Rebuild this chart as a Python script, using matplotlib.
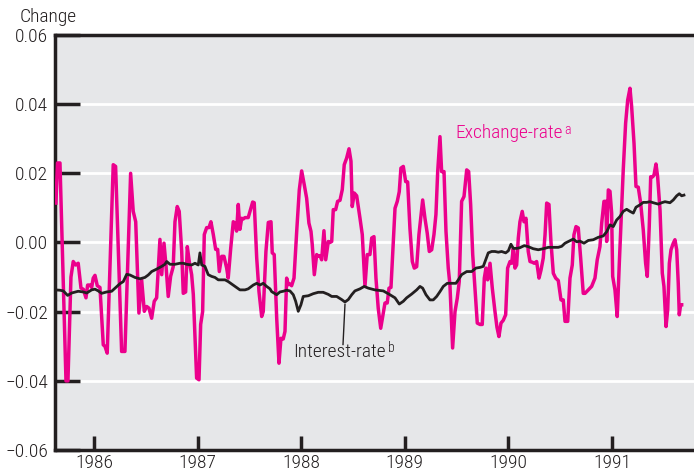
import matplotlib
matplotlib.use("Agg")
import matplotlib.pyplot as plt

plt.rcParams['font.family'] = ['Roboto Condensed', 'Liberation Sans', 'DejaVu Sans']
plt.rcParams['font.weight'] = 'light'

# Exchange-rate series (decimal year, change)
ex_year = [1985.633, 1985.648, 1985.672, 1985.730, 1985.749, 1985.778, 1985.800, 1985.823, 1985.848,
           1985.875, 1985.897, 1985.923, 1985.939, 1985.961, 1985.978, 1985.993, 1986.010, 1986.032,
           1986.058, 1986.090, 1986.106, 1986.128, 1986.186, 1986.209, 1986.267, 1986.299, 1986.354,
           1986.379, 1986.403, 1986.434, 1986.460, 1986.486, 1986.509, 1986.531, 1986.557, 1986.582,
           1986.605, 1986.637, 1986.654, 1986.676, 1986.695, 1986.717, 1986.740, 1986.765, 1986.782,
           1986.804, 1986.823, 1986.847, 1986.862, 1986.885, 1986.901, 1986.920, 1986.943, 1986.959,
           1986.991, 1987.014, 1987.030, 1987.049, 1987.065, 1987.088, 1987.110, 1987.129, 1987.152,
           1987.175, 1987.194, 1987.210, 1987.233, 1987.255, 1987.281, 1987.296, 1987.320, 1987.345,
           1987.361, 1987.377, 1987.393, 1987.409, 1987.426, 1987.441, 1987.458, 1987.489, 1987.506,
           1987.532, 1987.547, 1987.571, 1987.593, 1987.619, 1987.634, 1987.660, 1987.683, 1987.709,
           1987.721, 1987.740, 1987.764, 1987.786, 1987.805, 1987.827, 1987.844, 1987.860, 1987.876,
           1987.892, 1987.908, 1987.931, 1987.957, 1987.982, 1988.005, 1988.030, 1988.053, 1988.075,
           1988.095, 1988.107, 1988.127, 1988.150, 1988.165, 1988.182, 1988.198, 1988.220, 1988.237,
           1988.262, 1988.278, 1988.295, 1988.310, 1988.333, 1988.352, 1988.375, 1988.397, 1988.416,
           1988.439, 1988.462, 1988.481, 1988.493, 1988.513, 1988.536, 1988.568, 1988.590, 1988.616,
           1988.638, 1988.664, 1988.681, 1988.703, 1988.722, 1988.744, 1988.768, 1988.793, 1988.809,
           1988.831, 1988.848, 1988.867, 1988.883, 1988.906, 1988.928, 1988.947, 1988.963, 1988.986,
           1989.009, 1989.028, 1989.050, 1989.073, 1989.092, 1989.115, 1989.137, 1989.154, 1989.173,
           1989.195, 1989.217, 1989.237, 1989.260, 1989.282, 1989.301, 1989.318, 1989.340, 1989.356,
           1989.379, 1989.398, 1989.420, 1989.436, 1989.462, 1989.485, 1989.507, 1989.526, 1989.549,
           1989.572, 1989.598, 1989.617, 1989.636, 1989.656, 1989.678, 1989.700, 1989.726, 1989.748,
           1989.768, 1989.784, 1989.800, 1989.823, 1989.845, 1989.871, 1989.890, 1989.909, 1989.929,
           1989.951, 1989.974, 1989.993, 1990.016, 1990.032, 1990.048, 1990.064, 1990.080, 1990.096,
           1990.112, 1990.134, 1990.151, 1990.170, 1990.192, 1990.209, 1990.231, 1990.250, 1990.273,
           1990.296, 1990.315, 1990.337, 1990.354, 1990.370, 1990.392, 1990.411, 1990.434, 1990.457,
           1990.482, 1990.508, 1990.530, 1990.547, 1990.573, 1990.595, 1990.617, 1990.633, 1990.653,
           1990.675, 1990.698, 1990.723, 1990.740, 1990.772, 1990.804, 1990.836, 1990.858, 1990.884,
           1990.901, 1990.923, 1990.942, 1990.949, 1990.965, 1990.981, 1990.997, 1991.007, 1991.029,
           1991.051, 1991.071, 1991.094, 1991.109, 1991.132, 1991.152, 1991.174, 1991.190, 1991.213,
           1991.232, 1991.254, 1991.277, 1991.302, 1991.325, 1991.341, 1991.360, 1991.374, 1991.393,
           1991.406, 1991.425, 1991.441, 1991.464, 1991.486, 1991.502, 1991.522, 1991.538, 1991.554,
           1991.570, 1991.592, 1991.608, 1991.625, 1991.640, 1991.650, 1991.663, 1991.673]
ex_val = [0.0114, 0.0230, 0.0230, -0.0400, -0.0400, -0.0100, -0.0055, -0.0065, -0.0060,
          -0.0132, -0.0135, -0.0160, -0.0123, -0.0123, -0.0130, -0.0103, -0.0095, -0.0125,
          -0.0130, -0.0296, -0.0300, -0.0320, 0.0225, 0.0220, -0.0315, -0.0315, 0.0200,
          0.0090, 0.0060, -0.0204, -0.0107, -0.0199, -0.0185, -0.0190, -0.0219, -0.0170,
          -0.0160, 0.0009, -0.0093, -0.0002, -0.0065, -0.0156, -0.0098, -0.0070, 0.0060,
          0.0104, 0.0090, -0.0026, -0.0147, -0.0143, -0.0012, -0.0055, -0.0093, -0.0150,
          -0.0392, -0.0397, -0.0237, -0.0200, 0.0023, 0.0043, 0.0043, 0.0060, 0.0023,
          -0.0020, -0.0020, -0.0084, -0.0040, -0.0040, -0.0074, -0.0103, -0.0017, 0.0060,
          0.0055, 0.0033, 0.0110, 0.0038, 0.0070, 0.0068, 0.0072, 0.0072, 0.0090,
          0.0117, 0.0115, -0.0045, -0.0142, -0.0214, -0.0200, -0.0026, 0.0058, 0.0060,
          -0.0030, -0.0035, -0.0219, -0.0349, -0.0277, -0.0279, -0.0257, -0.0103, -0.0122,
          -0.0120, -0.0125, -0.0103, 0.0032, 0.0152, 0.0207, 0.0167, 0.0128, 0.0056,
          0.0032, -0.0006, -0.0093, -0.0035, -0.0040, -0.0038, -0.0050, 0.0034, -0.0050,
          0.0003, 0.0000, 0.0003, 0.0095, 0.0095, 0.0119, 0.0122, 0.0153, 0.0225,
          0.0244, 0.0271, 0.0235, 0.0104, 0.0143, 0.0135, 0.0070, 0.0023, -0.0127,
          -0.0035, -0.0035, 0.0013, 0.0017, -0.0103, -0.0190, -0.0248, -0.0204, -0.0175,
          -0.0175, -0.0132, -0.0130, -0.0035, 0.0099, 0.0119, 0.0147, 0.0215, 0.0220,
          0.0176, 0.0175, 0.0041, -0.0055, -0.0074, -0.0070, 0.0023, 0.0070, 0.0123,
          0.0070, 0.0027, -0.0026, -0.0021, 0.0023, 0.0081, 0.0205, 0.0306, 0.0205,
          0.0205, 0.0032, -0.0074, -0.0122, -0.0305, -0.0200, -0.0161, -0.0113, 0.0119,
          0.0133, 0.0210, 0.0205, 0.0110, -0.0035, -0.0132, -0.0233, -0.0237, -0.0237,
          -0.0103, -0.0074, -0.0108, -0.0060, -0.0132, -0.0200, -0.0245, -0.0272, -0.0233,
          -0.0225, -0.0209, -0.0074, -0.0055, -0.0060, -0.0017, -0.0074, -0.0065, 0.0013,
          0.0060, 0.0090, 0.0060, 0.0070, -0.0026, -0.0055, -0.0057, -0.0060, -0.0055,
          -0.0103, -0.0080, -0.0045, 0.0022, 0.0114, 0.0110, 0.0003, -0.0089, -0.0103,
          -0.0110, -0.0166, -0.0166, -0.0228, -0.0228, -0.0103, -0.0065, 0.0022, 0.0046,
          0.0042, -0.0045, -0.0147, -0.0147, -0.0137, -0.0127, -0.0103, -0.0050, -0.0012,
          0.0056, 0.0119, 0.0119, 0.0003, 0.0152, 0.0148, 0.0085, -0.0098, -0.0137,
          -0.0214, -0.0060, 0.0104, 0.0210, 0.0345, 0.0412, 0.0446, 0.0393, 0.0287,
          0.0162, 0.0160, 0.0114, 0.0037, -0.0060, -0.0098, 0.0046, 0.0190, 0.0190,
          0.0195, 0.0227, 0.0190, 0.0094, -0.0089, -0.0127, -0.0243, -0.0195, -0.0060,
          -0.0021, -0.0002, 0.0008, -0.0021, -0.0118, -0.0209, -0.0180, -0.0180]

# Interest-rate series (decimal year, change)
ir_year = [1985.624, 1985.672, 1985.704, 1985.746, 1985.785, 1985.848, 1985.897, 1985.930, 1985.978,
           1986.010, 1986.042, 1986.074, 1986.123, 1986.171, 1986.219, 1986.251, 1986.283, 1986.316,
           1986.348, 1986.396, 1986.444, 1986.492, 1986.524, 1986.557, 1986.605, 1986.654, 1986.685,
           1986.702, 1986.734, 1986.782, 1986.830, 1986.862, 1986.895, 1986.943, 1986.975, 1987.007,
           1987.023, 1987.040, 1987.071, 1987.103, 1987.136, 1987.168, 1987.200, 1987.233, 1987.265,
           1987.296, 1987.329, 1987.377, 1987.409, 1987.458, 1987.489, 1987.538, 1987.571, 1987.602,
           1987.634, 1987.667, 1987.699, 1987.715, 1987.764, 1987.795, 1987.827, 1987.860, 1987.892,
           1987.924, 1987.947, 1987.972, 1987.998, 1988.020, 1988.069, 1988.117, 1988.165, 1988.213,
           1988.262, 1988.295, 1988.343, 1988.391, 1988.423, 1988.455, 1988.488, 1988.519, 1988.568,
           1988.609, 1988.648, 1988.712, 1988.793, 1988.857, 1988.906, 1988.947, 1988.986, 1989.018,
           1989.067, 1989.115, 1989.147, 1989.173, 1989.205, 1989.243, 1989.275, 1989.308, 1989.340,
           1989.372, 1989.410, 1989.453, 1989.494, 1989.517, 1989.549, 1989.598, 1989.646, 1989.687,
           1989.726, 1989.758, 1989.781, 1989.806, 1989.839, 1989.871, 1989.903, 1989.935, 1989.974,
           1990.000, 1990.025, 1990.048, 1990.080, 1990.112, 1990.154, 1990.192, 1990.240, 1990.289,
           1990.337, 1990.386, 1990.434, 1990.482, 1990.515, 1990.547, 1990.595, 1990.627, 1990.660,
           1990.691, 1990.730, 1990.772, 1990.820, 1990.868, 1990.916, 1990.949, 1990.981, 1991.013,
           1991.045, 1991.077, 1991.109, 1991.142, 1991.174, 1991.206, 1991.232, 1991.271, 1991.302,
           1991.335, 1991.367, 1991.399, 1991.447, 1991.480, 1991.512, 1991.560, 1991.592, 1991.625,
           1991.650, 1991.673, 1991.695]
ir_val = [-0.0137, -0.0138, -0.0140, -0.0153, -0.0146, -0.0141, -0.0143, -0.0146, -0.0137,
          -0.0135, -0.0140, -0.0147, -0.0143, -0.0141, -0.0128, -0.0119, -0.0113, -0.0092,
          -0.0094, -0.0101, -0.0105, -0.0101, -0.0094, -0.0084, -0.0077, -0.0069, -0.0063,
          -0.0055, -0.0063, -0.0063, -0.0060, -0.0060, -0.0063, -0.0065, -0.0060, -0.0065,
          -0.0030, -0.0065, -0.0069, -0.0093, -0.0098, -0.0101, -0.0108, -0.0108, -0.0108,
          -0.0113, -0.0120, -0.0130, -0.0137, -0.0137, -0.0134, -0.0123, -0.0118, -0.0123,
          -0.0118, -0.0127, -0.0134, -0.0142, -0.0151, -0.0143, -0.0141, -0.0138, -0.0140,
          -0.0151, -0.0170, -0.0199, -0.0180, -0.0156, -0.0154, -0.0148, -0.0144, -0.0144,
          -0.0150, -0.0156, -0.0156, -0.0165, -0.0172, -0.0165, -0.0151, -0.0140, -0.0134,
          -0.0127, -0.0132, -0.0137, -0.0140, -0.0151, -0.0160, -0.0178, -0.0170, -0.0160,
          -0.0149, -0.0137, -0.0127, -0.0132, -0.0151, -0.0166, -0.0166, -0.0156, -0.0142,
          -0.0127, -0.0118, -0.0118, -0.0118, -0.0108, -0.0093, -0.0084, -0.0084, -0.0074,
          -0.0072, -0.0069, -0.0050, -0.0030, -0.0026, -0.0026, -0.0028, -0.0026, -0.0030,
          -0.0024, -0.0005, -0.0017, -0.0017, -0.0015, -0.0009, -0.0012, -0.0018, -0.0021,
          -0.0018, -0.0014, -0.0014, -0.0014, -0.0011, -0.0002, 0.0005, 0.0010, 0.0002,
          0.0004, -0.0002, 0.0006, 0.0008, 0.0015, 0.0019, 0.0031, 0.0051, 0.0046,
          0.0065, 0.0075, 0.0090, 0.0096, 0.0090, 0.0085, 0.0102, 0.0109, 0.0116,
          0.0116, 0.0118, 0.0115, 0.0111, 0.0115, 0.0118, 0.0115, 0.0123, 0.0135,
          0.0141, 0.0135, 0.0137]

y_ticks = [-0.06, -0.04, -0.02, 0.00, 0.02, 0.04, 0.06]
y_tick_labels = ['\u22120.06', '\u22120.04', '\u22120.02', '0.00', '0.02', '0.04', '0.06']
x_ticks = [1986, 1987, 1988, 1989, 1990, 1991]
x_tick_labels = ['1986', '1987', '1988', '1989', '1990', '1991']

PINK = '#ec008c'
DARK = '#231f20'
BG = '#e6e7e9'
FS = 14

fig = plt.figure(figsize=(6.94, 4.75), dpi=100)
ax = fig.add_axes([55 / 694, 1 - 450 / 475, 1 - 55 / 694, (450 - 35) / 475])
ax.set_facecolor(BG)

ax.set_xlim(1985.624, 1991.792)
ax.set_ylim(-0.06, 0.06)

for v in y_ticks[1:-1]:
    ax.axhline(v, color='white', lw=2.0, zorder=1)

ax.plot(ex_year, ex_val, color=PINK, lw=2.5, zorder=3)
ax.plot(ir_year, ir_val, color=DARK, lw=2.0, zorder=4)

ax.set_yticks(y_ticks)
ax.set_yticklabels(y_tick_labels)
ax.set_xticks(x_ticks)
ax.set_xticklabels(x_tick_labels)
ax.tick_params(axis='y', direction='in', length=18, width=2.5, color=DARK,
               labelsize=FS, pad=5, labelcolor=DARK)
ax.tick_params(axis='x', direction='in', length=10, width=2.5, color=DARK,
               labelsize=FS, pad=3, labelcolor=DARK)

for s in ['left', 'top', 'bottom']:
    ax.spines[s].set_linewidth(2.5)
    ax.spines[s].set_color(DARK)
ax.spines['right'].set_visible(False)

fig.text(20 / 694, 1 - 17 / 475, 'Change', fontsize=FS, color=DARK, va='center', ha='left')

t1 = ax.text(1989.485, 0.0316, 'Exchange-rate', color=PINK, fontsize=FS, va='center', ha='left')
ax.annotate('a', xy=(1, 1.0), xycoords=t1, xytext=(1.5, 1), textcoords='offset points',
            color=PINK, fontsize=10, va='top', ha='left')

t2 = ax.text(1987.921, -0.0316, 'Interest-rate', color=DARK, fontsize=FS, va='center', ha='left')
ax.annotate('b', xy=(1, 1.0), xycoords=t2, xytext=(1.5, 1), textcoords='offset points',
            color=DARK, fontsize=10, va='top', ha='left')

ax.plot([1988.423, 1988.404], [-0.0179, -0.0295], color=DARK, lw=1.0, zorder=5)

fig.savefig('out.png', dpi=100)
